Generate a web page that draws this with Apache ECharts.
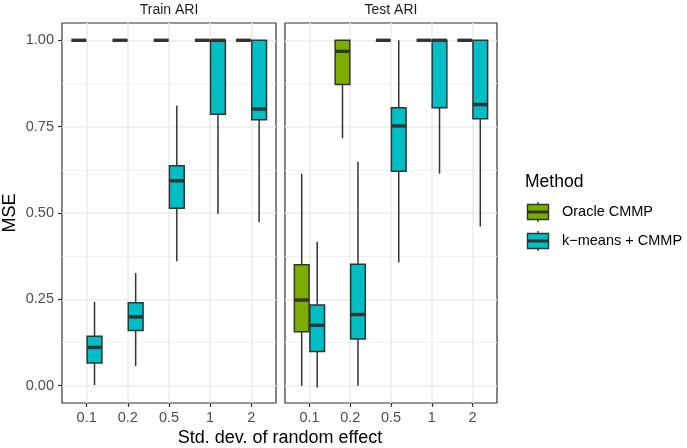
<!DOCTYPE html>
<html>
<head>
<meta charset="utf-8">
<script src="https://cdn.jsdelivr.net/npm/echarts@6/dist/echarts.min.js"></script>
<style>
  html, body { margin: 0; padding: 0; background: #fff; }
  #boxchart { width: 687px; height: 448px; }
</style>
</head>
<body>
<div id="boxchart"></div>
<script>
var boxchart = echarts.init(document.getElementById("boxchart"));

var categories = ['0.1', '0.2', '0.5', '1', '2'];
var panels = ['Train ARI', 'Test ARI'];
var methods = ['Oracle CMMP', 'k\u2212means + CMMP'];
var yTicks = [0, 0.25, 0.5, 0.75, 1];
var yMinorTicks = [0.125, 0.375, 0.625, 0.875];

// each entry: [lower whisker, Q1, median, Q3, upper whisker]
var trainOracle = [[1, 1, 1, 1, 1], [1, 1, 1, 1, 1], [1, 1, 1, 1, 1], [1, 1, 1, 1, 1], [1, 1, 1, 1, 1]];
var trainKmeans = [
    [0.002, 0.066, 0.111, 0.143, 0.243],
    [0.057, 0.160, 0.199, 0.240, 0.326],
    [0.360, 0.514, 0.593, 0.637, 0.811],
    [0.498, 0.786, 1, 1, 1],
    [0.473, 0.770, 0.801, 1, 1]
];
var testOracle = [
    [0, 0.156, 0.248, 0.350, 0.614],
    [0.716, 0.872, 0.968, 1, 1],
    [1, 1, 1, 1, 1],
    [1, 1, 1, 1, 1],
    [1, 1, 1, 1, 1]
];
var testKmeans = [
    [-0.005, 0.099, 0.175, 0.234, 0.417],
    [0, 0.135, 0.206, 0.352, 0.648],
    [0.357, 0.621, 0.752, 0.805, 1],
    [0.614, 0.805, 1, 1, 1],
    [0.461, 0.773, 0.814, 1, 1]
];

var colors = ['#7CAE00', '#00BFC4'];
var dark = '#333333';
var BOX_W = 0.36;     // box width in category units
var DODGE = 0.19;     // offset of each method from the category centre

function toItems(stats) {
    return stats.map(function (s, i) { return [i + 1].concat(s); });
}

function makeBox(offset, color) {
    return function (params, api) {
        var x = api.value(0) + offset;
        var half = api.size([BOX_W, 0])[0] / 2;
        var p = [1, 2, 3, 4, 5].map(function (d) { return api.coord([x, api.value(d)]); });
        var cx = p[0][0];
        return {
            type: 'group',
            children: [
                { type: 'line', shape: { x1: cx, y1: p[0][1], x2: cx, y2: p[4][1] },
                  style: { stroke: dark, lineWidth: 1.5 } },
                { type: 'rect', shape: { x: cx - half, y: p[3][1], width: 2 * half, height: p[1][1] - p[3][1] },
                  style: { fill: color, stroke: dark, lineWidth: 1.5 } },
                { type: 'line', shape: { x1: cx - half, y1: p[2][1], x2: cx + half, y2: p[2][1] },
                  style: { stroke: dark, lineWidth: 3.4 } }
            ]
        };
    };
}

function boxSeries(name, idx, stats, m) {
    return {
        name: name,
        type: 'custom',
        xAxisIndex: idx,
        yAxisIndex: idx,
        renderItem: makeBox(m === 0 ? -DODGE : DODGE, colors[m]),
        encode: { x: 0, y: [1, 2, 3, 4, 5] },
        data: toItems(stats),
        z: 3
    };
}

function xAxisFor(idx) {
    return {
        type: 'value',
        gridIndex: idx,
        min: 0.4,
        max: 5.6,
        position: 'bottom',
        axisLine: { show: false, onZero: false },
        axisTick: { show: true, length: 4, lineStyle: { color: dark, width: 1.2 }, customValues: [1, 2, 3, 4, 5] },
        axisLabel: {
            color: '#4d4d4d', fontSize: 14.5, margin: 7, fontFamily: 'Liberation Sans',
            customValues: [1, 2, 3, 4, 5],
            formatter: function (v) { return categories[Math.round(v) - 1]; }
        },
        splitLine: { show: true, lineStyle: { color: '#ebebeb', width: 1.5 } }
    };
}

function yAxisFor(idx) {
    return {
        type: 'value',
        gridIndex: idx,
        min: -0.05,
        max: 1.05,
        position: 'left',
        axisLine: { show: false, onZero: false },
        axisTick: { show: idx === 0, length: 4, lineStyle: { color: dark, width: 1.2 }, customValues: yTicks },
        axisLabel: {
            show: idx === 0, color: '#4d4d4d', fontSize: 14.5, margin: 8, fontFamily: 'Liberation Sans',
            customValues: yTicks,
            formatter: function (v) { return v.toFixed(2); }
        },
        splitLine: { show: true, lineStyle: { color: '#ebebeb', width: 1.5 } }
    };
}

function yMinorFor(idx) {
    return {
        type: 'value',
        gridIndex: idx,
        min: -0.05,
        max: 1.05,
        position: 'left',
        axisLine: { show: false, onZero: false },
        axisTick: { show: false, customValues: yMinorTicks },
        axisLabel: { show: false, customValues: yMinorTicks },
        splitLine: { show: true, lineStyle: { color: '#f2f2f2', width: 1 } }
    };
}

function legendKey(y, color) {
    return {
        type: 'group',
        children: [
            { type: 'line', shape: { x1: 538, y1: y - 10, x2: 538, y2: y + 10 }, style: { stroke: dark, lineWidth: 1.4 } },
            { type: 'rect', shape: { x: 527.5, y: y - 7.5, width: 21, height: 15 }, style: { fill: color, stroke: dark, lineWidth: 1.4 } },
            { type: 'line', shape: { x1: 527.5, y1: y, x2: 548.5, y2: y }, style: { stroke: dark, lineWidth: 3 } }
        ]
    };
}

option = {
    backgroundColor: '#ffffff',
    animation: false,
    textStyle: { fontFamily: 'Liberation Sans' },
    grid: [
        { left: 62, top: 23, width: 214, height: 380, show: true, backgroundColor: '#fff', borderColor: dark, borderWidth: 1.2 },
        { left: 285, top: 23, width: 212, height: 380, show: true, backgroundColor: '#fff', borderColor: dark, borderWidth: 1.2 }
    ],
    xAxis: [xAxisFor(0), xAxisFor(1)],
    yAxis: [yAxisFor(0), yAxisFor(1), yMinorFor(0), yMinorFor(1)],
    series: [
        boxSeries(methods[0], 0, trainOracle, 0),
        boxSeries(methods[1], 0, trainKmeans, 1),
        boxSeries(methods[0], 1, testOracle, 0),
        boxSeries(methods[1], 1, testKmeans, 1)
    ],
    graphic: [
        { type: 'text', x: 169, y: 10, style: { text: panels[0], fill: '#1a1a1a', font: '14px "Liberation Sans"', textAlign: 'center', textVerticalAlign: 'middle' } },
        { type: 'text', x: 391, y: 10, style: { text: panels[1], fill: '#1a1a1a', font: '14px "Liberation Sans"', textAlign: 'center', textVerticalAlign: 'middle' } },
        { type: 'text', x: 280, y: 438, style: { text: 'Std. dev. of random effect', fill: '#000', font: '18px "Liberation Sans"', textAlign: 'center', textVerticalAlign: 'middle' } },
        { type: 'text', x: 10, y: 213, rotation: Math.PI / 2, style: { text: 'MSE', fill: '#000', font: '18px "Liberation Sans"', textAlign: 'center', textVerticalAlign: 'middle' } },
        { type: 'text', x: 525, y: 182, style: { text: 'Method', fill: '#000', font: '17.5px "Liberation Sans"', textAlign: 'left', textVerticalAlign: 'middle' } },
        legendKey(212, colors[0]),
        legendKey(241, colors[1]),
        { type: 'text', x: 562, y: 212, style: { text: methods[0], fill: '#000', font: '14.5px "Liberation Sans"', textAlign: 'left', textVerticalAlign: 'middle' } },
        { type: 'text', x: 562, y: 241, style: { text: methods[1], fill: '#000', font: '14.5px "Liberation Sans"', textAlign: 'left', textVerticalAlign: 'middle' } }
    ]
};

boxchart.setOption(option);
</script>
</body>
</html>
